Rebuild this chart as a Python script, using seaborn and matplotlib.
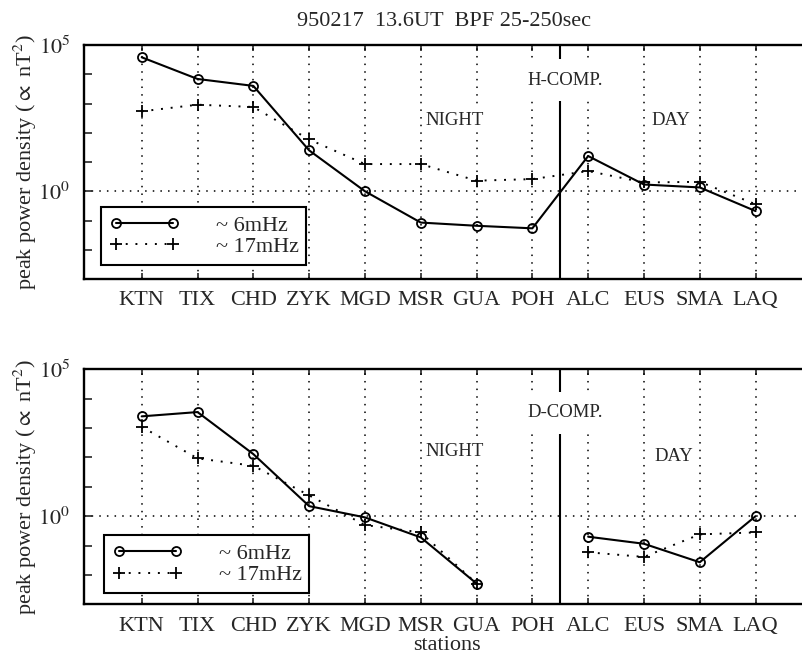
import numpy as np
import pandas as pd
import matplotlib
matplotlib.use("Agg")
import matplotlib.pyplot as plt
import seaborn as sns
from matplotlib.lines import Line2D

stations = ["KTN", "TIX", "CHD", "ZYK", "MGD", "MSR", "GUA", "POH", "ALC", "EUS", "SMA", "LAQ"]

# H-component peak power density
h_6mhz = [3.8e4, 6.9e3, 4.0e3, 25, 1.0, 0.085, 0.066, 0.054, 16, 1.7, 1.35, 0.21]
h_17mhz = [540, 910, 760, 59, 8.5, 8.5, 2.3, 2.6, 4.9, 2.0, 2.1, 0.36]
h_segment = [0] * 12

# D-component peak power density (no data at POH)
d_6mhz = [2500, 3500, 130, 2.2, 0.91, 0.19, 0.0051, np.nan, 0.20, 0.115, 0.027, 1.0]
d_17mhz = [1100, 93, 52, 5.1, 0.50, 0.28, 0.0051, np.nan, 0.059, 0.041, 0.24, 0.28]
d_segment = [0, 0, 0, 0, 0, 0, 0, 0, 1, 1, 1, 1]

title = "950217  13.6UT  BPF 25-250sec"
ylabel = r"peak power density ($\propto$ nT$^2$)"

sns.set_style("ticks")
plt.rcParams["font.family"] = ["Liberation Serif", "DejaVu Serif"]
plt.rcParams["mathtext.fontset"] = "stix"

W, H = 803, 657
fig = plt.figure(figsize=(W / 100, H / 100), dpi=100)

DOT = (0, (1, 4))


def make_df(v6, v17, seg):
    rows = []
    for i, (a, b, s) in enumerate(zip(v6, v17, seg)):
        rows.append(dict(pos=i, val=a, seg=s, series="6mHz"))
        rows.append(dict(pos=i, val=b, seg=s, series="17mHz"))
    return pd.DataFrame(rows).dropna()


def panel(rect, v6, v17, seg, comp, night_xy, day_xy, comp_xy, leg_xy, xlabel=None):
    ax = fig.add_axes(rect)
    df = make_df(v6, v17, seg)
    ax.set_yscale("log")
    ax.set_ylim(1e-3, 1e5)
    ax.set_xlim(-1.034, 11.85)

    # grid
    for i in range(len(stations)):
        ax.axvline(i, color="k", lw=1.1, ls=DOT, zorder=1)
    ax.axhline(1.0, color="k", lw=1.1, ls=DOT, zorder=1)
    ax.axvline(7.5, color="k", lw=1.5, zorder=1)

    d17 = df[df.series == "17mHz"]
    d6 = df[df.series == "6mHz"]
    sns.lineplot(data=d17, x="pos", y="val", units="seg", estimator=None, sort=False,
                 ax=ax, color="k", lw=1.4, ls=DOT, marker="+", ms=9, mew=1.3,
                 mec="k", mfc="k", legend=False, zorder=3)
    sns.lineplot(data=d6, x="pos", y="val", units="seg", estimator=None, sort=False,
                 ax=ax, color="k", lw=1.5, marker="o", ms=6.5, mfc="none", mec="k",
                 mew=1.3, legend=False, zorder=4)

    ax.set_xticks(range(len(stations)))
    ax.set_xticklabels(stations, fontsize=16)
    ax.tick_params(axis="x", direction="in", length=4, width=1.2, top=True, pad=9)
    yt = [10.0 ** k for k in range(-3, 6)]
    ax.set_yticks(yt)
    ax.set_yticklabels(["" if k not in (0, 5) else r"$10^{%d}$" % k for k in range(-3, 6)],
                       fontsize=16)
    ax.yaxis.set_minor_locator(matplotlib.ticker.NullLocator())
    ax.tick_params(axis="y", direction="in", length=6, width=1.2, pad=10)

    for s in ["left", "bottom", "top"]:
        ax.spines[s].set_linewidth(1.7)
        ax.spines[s].set_color("k")
    ax.spines["right"].set_visible(False)

    ax.set_ylabel(ylabel, fontsize=16)
    ax.yaxis.set_label_coords(-0.063, 0.5)
    if xlabel:
        ax.set_xlabel(xlabel, fontsize=16, labelpad=1)
        ax.xaxis.set_label_coords((447 - 84) / 719, -0.133)
    else:
        ax.set_xlabel("")

    bb = dict(facecolor="white", edgecolor="none", pad=2)
    ax.text(*night_xy, "NIGHT", transform=ax.transAxes, ha="center", va="center",
            fontsize=13.5, bbox=bb, zorder=2)
    ax.text(*day_xy, "DAY", transform=ax.transAxes, ha="center", va="center",
            fontsize=13.5, bbox=bb, zorder=2)
    ax.text(*comp_xy, comp, transform=ax.transAxes, ha="center", va="center",
            fontsize=13.5, bbox=dict(facecolor="white", edgecolor="none", pad=9), zorder=2)

    handles = [
        Line2D([], [], color="k", lw=1.5, marker="o", ms=6.5, mfc="none", mec="k", mew=1.3),
        Line2D([], [], color="k", lw=1.4, ls=DOT, marker="+", ms=9, mew=1.3),
    ]
    leg = ax.legend(handles, ["~ 6mHz", "~ 17mHz"], loc="lower left", bbox_to_anchor=leg_xy,
                    numpoints=2, handlelength=3.2, handletextpad=1.6, fontsize=16,
                    frameon=True, fancybox=False, framealpha=1, edgecolor="k",
                    borderpad=0.35, labelspacing=0.05, borderaxespad=0)
    leg.get_frame().set_linewidth(1.5)
    leg.set_zorder(6)
    return ax


ax1 = panel([84 / W, 1 - 279 / H, 719 / W, 234 / H], h_6mhz, h_17mhz, h_segment, "H-COMP.",
            night_xy=(0.515, 0.679), day_xy=(0.816, 0.679), comp_xy=(0.669, 0.850),
            leg_xy=(0.024, 0.060))
ax2 = panel([84 / W, 1 - 604.3 / H, 719 / W, 235 / H], d_6mhz, d_17mhz, d_segment, "D-COMP.",
            night_xy=(0.516, 0.649), day_xy=(0.821, 0.631), comp_xy=(0.669, 0.815),
            leg_xy=(0.028, 0.047), xlabel="stations")

fig.text(444 / W, 1 - 21 / H, title, ha="center", va="center", fontsize=16)

fig.savefig("out.png", dpi=100)
